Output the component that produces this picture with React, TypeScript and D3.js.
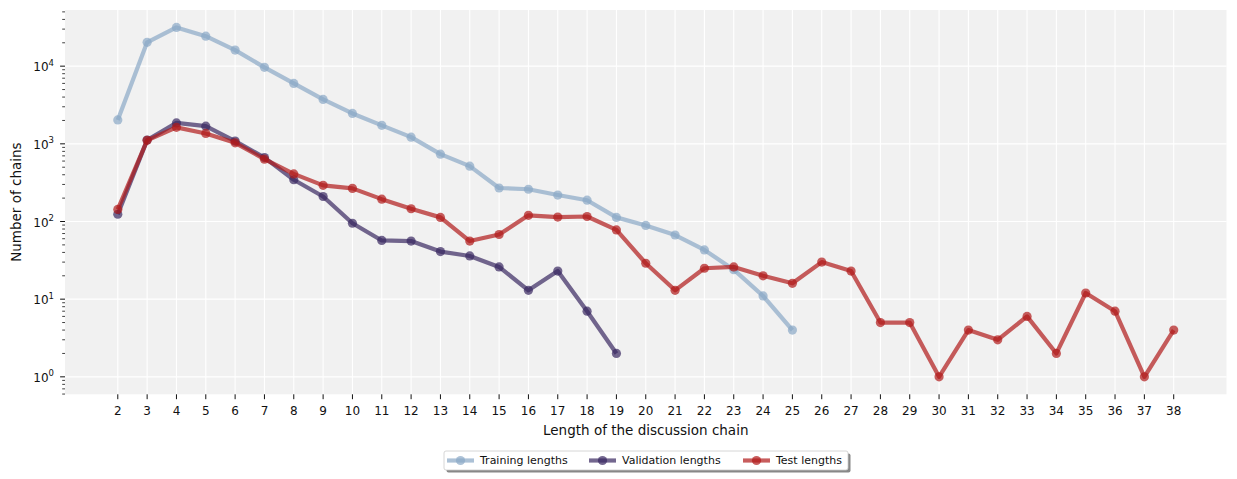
import { useEffect, useRef } from 'react';
import * as d3 from 'd3';

const width = 1237;
const height = 479;
const [mt, mr, mb, ml] = [10, 10.5, 84.7, 65];

const lengths = d3.range(2, 39);
const trainCounts = [
    2030, 20300, 31500, 24300, 16100, 9650, 5990, 3730, 2460, 1730, 1220, 736, 516, 270, 260, 219, 188, 113, 89,
    67, 43, 24, 11, 4
];
const validCounts = [124, 1117, 1860, 1690, 1085, 665, 345, 210, 95, 57, 56, 41, 36, 26, 13, 23, 7, 2];
const testCounts = [
    143, 1110, 1630, 1360, 1030, 635, 410, 292, 267, 194, 146, 113, 56, 68, 120, 114, 116, 78, 29, 13, 25, 26, 20,
    16, 30, 23, 5, 5, 1, 4, 3, 6, 2, 12, 7, 1, 4
];

const seriesNames = ['Training lengths', 'Validation lengths', 'Test lengths'];
const seriesColors = ['#8aa8c6', '#392861', '#b11a1a'];
const seriesCounts = [trainCounts, validCounts, testCounts];

const font = 'DejaVu Sans, sans-serif';
const ink = '#111';

export default function App() {
    const ref = useRef<SVGSVGElement>(null);

    useEffect(() => {
        document.body.style.margin = '0';
        const svg = d3.select(ref.current);
        svg.selectAll('*').remove();

        // autoscale like matplotlib, 5% margins
        const xExt = d3.extent(lengths) as [number, number];
        const xPad = (xExt[1] - xExt[0]) * 0.05;
        const x = d3
            .scaleLinear()
            .domain([xExt[0] - xPad, xExt[1] + xPad])
            .range([ml, width - mr]);

        const all = seriesCounts.flat();
        const lo = Math.log10(d3.min(all)!);
        const hi = Math.log10(d3.max(all)!);
        const yPad = (hi - lo) * 0.05;
        const y = d3
            .scaleLog()
            .domain([10 ** (lo - yPad), 10 ** (hi + yPad)])
            .range([height - mb, mt]);

        svg.append('rect')
            .attr('x', ml)
            .attr('y', mt)
            .attr('width', width - ml - mr)
            .attr('height', height - mt - mb)
            .attr('fill', '#f1f1f1');

        const grid = svg.append('g').attr('stroke', '#ffffff').attr('stroke-width', 1.1);
        grid.selectAll('line.v')
            .data(lengths)
            .join('line')
            .attr('x1', (d) => x(d))
            .attr('x2', (d) => x(d))
            .attr('y1', mt)
            .attr('y2', height - mb);
        const majors = [1, 10, 100, 1000, 10000];
        grid.selectAll('line.h')
            .data(majors)
            .join('line')
            .attr('x1', ml)
            .attr('x2', width - mr)
            .attr('y1', (d) => y(d))
            .attr('y2', (d) => y(d));

        // x axis
        const xAxis = svg.append('g').attr('font-family', font).attr('font-size', 12);
        xAxis.selectAll('line')
            .data(lengths)
            .join('line')
            .attr('x1', (d) => x(d))
            .attr('x2', (d) => x(d))
            .attr('y1', height - mb)
            .attr('y2', height - mb + 4.9)
            .attr('stroke', ink)
            .attr('stroke-width', 1);
        xAxis.selectAll('text')
            .data(lengths)
            .join('text')
            .attr('x', (d) => x(d))
            .attr('y', height - mb + 21)
            .attr('text-anchor', 'middle')
            .attr('fill', ink)
            .text((d) => d);

        // y axis, with minor ticks
        const [d0, d1] = y.domain();
        const minors: number[] = [];
        for (let e = -1; e <= 5; e++) {
            for (let m = 2; m <= 9; m++) {
                const v = m * 10 ** e;
                if (v >= d0 && v <= d1) minors.push(v);
            }
        }
        const yAxis = svg.append('g').attr('font-family', font).attr('fill', ink);
        yAxis.selectAll('line.minor')
            .data(minors)
            .join('line')
            .attr('x1', ml - 2.8)
            .attr('x2', ml)
            .attr('y1', (d) => y(d))
            .attr('y2', (d) => y(d))
            .attr('stroke', ink)
            .attr('stroke-width', 0.8);
        yAxis.selectAll('line.major')
            .data(majors)
            .join('line')
            .attr('x1', ml - 4.9)
            .attr('x2', ml)
            .attr('y1', (d) => y(d))
            .attr('y2', (d) => y(d))
            .attr('stroke', ink)
            .attr('stroke-width', 1);
        const yLabels = yAxis
            .selectAll('text')
            .data(majors)
            .join('text')
            .attr('x', ml - 11)
            .attr('y', (d) => y(d) + 5)
            .attr('text-anchor', 'end')
            .attr('font-size', 12);
        yLabels.append('tspan').text('10');
        yLabels
            .append('tspan')
            .attr('font-size', 8.5)
            .attr('dy', -5.5)
            .text((d) => Math.round(Math.log10(d)));

        svg.append('text')
            .attr('x', (ml + width - mr) / 2)
            .attr('y', 435)
            .attr('text-anchor', 'middle')
            .attr('font-family', font)
            .attr('font-size', 13.5)
            .attr('fill', ink)
            .text('Length of the discussion chain');
        svg.append('text')
            .attr('transform', `translate(21,${(mt + height - mb) / 2}) rotate(-90)`)
            .attr('text-anchor', 'middle')
            .attr('font-family', font)
            .attr('font-size', 13.5)
            .attr('fill', ink)
            .text('Number of chains');

        // series
        const line = d3
            .line<number>()
            .x((_, i) => x(lengths[i]))
            .y((d) => y(d));
        seriesCounts.forEach((counts, s) => {
            const g = svg.append('g');
            g.append('path')
                .attr('d', line(counts))
                .attr('fill', 'none')
                .attr('stroke', seriesColors[s])
                .attr('stroke-width', 4.2)
                .attr('stroke-linejoin', 'round')
                .attr('opacity', 0.7);
            g.selectAll('circle')
                .data(counts)
                .join('circle')
                .attr('cx', (_, i) => x(lengths[i]))
                .attr('cy', (d) => y(d))
                .attr('r', 4.6)
                .attr('fill', seriesColors[s])
                .attr('fill-opacity', 0.7);
        });

        // legend
        const lx = 444;
        const ly = 451;
        const lw = 404;
        const lh = 19;
        svg.append('rect')
            .attr('x', lx + 2.5)
            .attr('y', ly + 2.5)
            .attr('width', lw)
            .attr('height', lh)
            .attr('rx', 2)
            .attr('fill', '#888');
        svg.append('rect')
            .attr('x', lx)
            .attr('y', ly)
            .attr('width', lw)
            .attr('height', lh)
            .attr('rx', 2)
            .attr('fill', '#ffffff')
            .attr('stroke', '#cccccc')
            .attr('stroke-width', 0.8);
        const entryX = [447, 589, 743];
        const legend = svg
            .selectAll('g.entry')
            .data(seriesNames)
            .join('g')
            .attr('transform', (_, i) => `translate(${entryX[i]},${ly + lh / 2})`);
        legend
            .append('line')
            .attr('x1', 0)
            .attr('x2', 27)
            .attr('stroke', (_, i) => seriesColors[i])
            .attr('stroke-width', 4.2)
            .attr('opacity', 0.7);
        legend
            .append('circle')
            .attr('cx', 13.5)
            .attr('r', 4.6)
            .attr('fill', (_, i) => seriesColors[i])
            .attr('fill-opacity', 0.7);
        legend
            .append('text')
            .attr('x', 33)
            .attr('y', 3.8)
            .attr('font-family', font)
            .attr('font-size', 11)
            .attr('fill', ink)
            .text((d) => d);
    }, []);

    return <svg ref={ref} width={width} height={height} style={{ display: 'block', background: '#fff' }} />;
}
